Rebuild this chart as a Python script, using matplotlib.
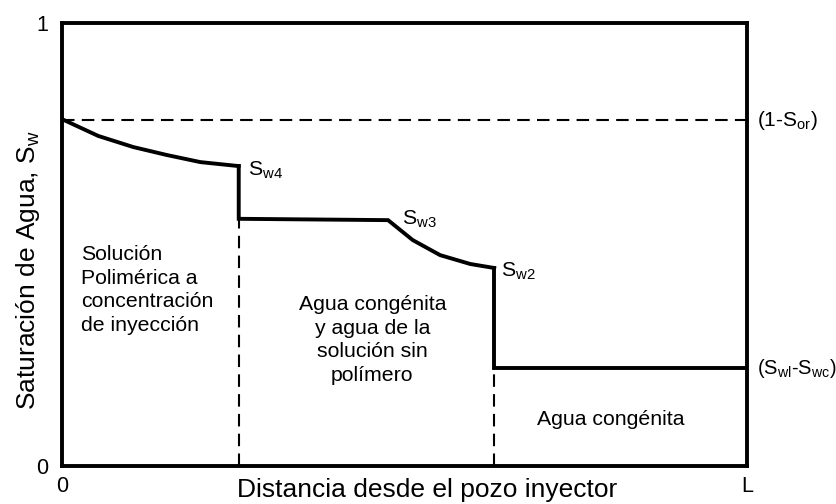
import matplotlib.pyplot as plt

plt.rcParams["font.family"] = ["Liberation Sans", "DejaVu Sans"]
plt.rcParams["mathtext.fontset"] = "custom"
plt.rcParams["mathtext.rm"] = "Liberation Sans"
plt.rcParams["mathtext.it"] = "Liberation Sans"

# Saturation profile (x as fraction of L)
bank4_x = [0.0, 0.053, 0.104, 0.153, 0.202, 0.258]
bank4_y = [0.783, 0.745, 0.720, 0.702, 0.686, 0.677]
bank3_x = [0.258, 0.258, 0.476, 0.512, 0.552, 0.596, 0.631]
bank3_y = [0.677, 0.558, 0.555, 0.510, 0.476, 0.456, 0.447]
bank2_x = [0.631, 0.631, 1.0]
bank2_y = [0.447, 0.221, 0.221]
sor_level = 0.781
front_x = [0.258, 0.631]
front_y = [0.558, 0.221]

fig, ax = plt.subplots(figsize=(8.37, 5.04), dpi=100)
fig.subplots_adjust(left=62 / 837, right=747 / 837, top=1 - 23 / 504, bottom=1 - 466 / 504)

lw = 2.8
dash = (6, 3.5)
ax.plot(bank4_x, bank4_y, color="black", lw=lw, solid_joinstyle="miter")
ax.plot(bank3_x, bank3_y, color="black", lw=lw, solid_joinstyle="miter")
ax.plot(bank2_x, bank2_y, color="black", lw=lw, solid_joinstyle="miter")
ax.plot([0, 1], [sor_level, sor_level], color="black", lw=1.5, dashes=dash)
for fx, fy in zip(front_x, front_y):
    ax.plot([fx, fx], [0, fy], color="black", lw=1.5, dashes=dash)

ax.set_xlim(0, 1)
ax.set_ylim(0, 1)
for s in ax.spines.values():
    s.set_linewidth(lw)
ax.set_xticks([0, 1])
ax.set_xticklabels(["0", "L"], fontsize=15.5)
ax.set_yticks([0, 1])
ax.set_yticklabels(["0", "1"], fontsize=15.5)
ax.tick_params(length=0)
ax.tick_params(axis="x", pad=7)
ax.tick_params(axis="y", pad=10)
ax.set_xlabel("Distancia desde el pozo inyector", fontsize=19, va="center")
ax.xaxis.set_label_coords(0.533, -0.054)
ax.set_ylabel(r"Saturación de Agua, S$_{\rm w}$", fontsize=19, va="center")
ax.yaxis.set_label_coords(-0.05, 0.442)

fs = 15.3
ax.text(bank4_x[-1] + 0.013, bank4_y[-1] - 0.01, r"S$_{\rm w4}$", fontsize=fs, va="center")
ax.text(0.497, 0.556, r"S$_{\rm w3}$", fontsize=fs, va="center")
ax.text(bank3_x[-1] + 0.01, 0.44, r"S$_{\rm w2}$", fontsize=fs, va="center")
ax.text(1.015, sor_level, r"(1-S$_{\rm or}$)", fontsize=15, va="center", clip_on=False)
ax.text(1.015, bank2_y[-1], r"(S$_{\rm wl}$-S$_{\rm wc}$)", fontsize=14.5, va="center", clip_on=False)

ax.text(0.028, 0.397, "Solución\nPolimérica a\nconcentración\nde inyección",
        fontsize=fs, va="center", ha="left", linespacing=1.3)
ax.text(0.453, 0.284, "Agua congénita\ny agua de la\nsolución sin\npolímero",
        fontsize=fs, va="center", ha="center", linespacing=1.3)
ax.text(0.801, 0.104, "Agua congénita", fontsize=fs, va="center", ha="center")

fig.savefig("out.png", dpi=100)
